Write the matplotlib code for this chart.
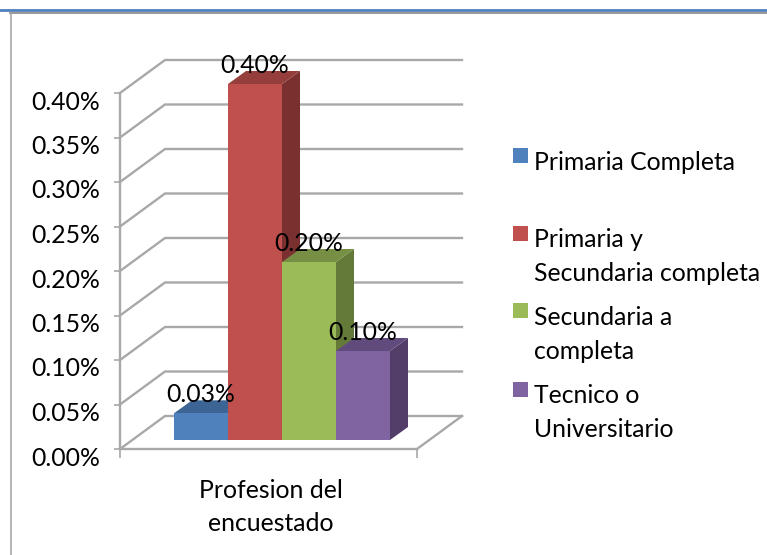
import matplotlib
matplotlib.use('Agg')
import matplotlib.pyplot as plt
import matplotlib.transforms as mtrans
from matplotlib.patches import Polygon, Rectangle
from matplotlib.lines import Line2D

categories = ['Primaria Completa', 'Primaria y\nSecundaria completa',
              'Secundaria a\ncompleta', 'Tecnico o\nUniversitario']
values = [0.03, 0.40, 0.20, 0.10]
value_labels = ['0.03%', '0.40%', '0.20%', '0.10%']
yticks = [0.00, 0.05, 0.10, 0.15, 0.20, 0.25, 0.30, 0.35, 0.40]
ytick_labels = ['0.00%', '0.05%', '0.10%', '0.15%', '0.20%', '0.25%', '0.30%', '0.35%', '0.40%']
axis_title = 'Profesion del\nencuestado'

front_colors = ['#4f81bd', '#c0504d', '#9bbb59', '#8064a2']
top_colors = ['#3c6494', '#953e3b', '#778f44', '#614b7c']
side_colors = ['#325279', '#7a302e', '#637a38', '#523e69']
grid_color = '#a8a8a8'

W, H = 767, 555
plt.rcParams['font.family'] = ['Lato', 'DejaVu Sans']
fs = 17.8
fig = plt.figure(figsize=(W / 100, H / 100), dpi=100, facecolor='white')


def px_box(x0, y0, x1, y1):
    """pixel box (y from the top) to figure fractions"""
    return [x0 / W, 1 - y1 / H, (x1 - x0) / W, (y1 - y0) / H]


# page rules and the chart frame
fig.add_artist(Line2D([0, 1], [1 - 10 / H] * 2, color='#4f81bd', lw=2.0))
fig.add_artist(Line2D([10 / W, 1], [1 - 13 / H] * 2, color='#909090', lw=1.3))
fig.add_artist(Line2D([10.5 / W] * 2, [0, 1 - 13 / H], color='#a0a0a0', lw=1.1))

ax = fig.add_axes(px_box(120, 93, 417, 449))
ax.patch.set_alpha(0)
xmax = 5.5
ax.set_xlim(0, xmax)
ax.set_ylim(0, 0.40)

# depth of the box in data units
depth_x = 45 / 54
depth_y = 33 / 890

for t in yticks:
    ax.plot([0, depth_x, xmax + depth_x], [t, t + depth_y, t + depth_y],
            color=grid_color, lw=1.7, clip_on=False, zorder=1)
ax.plot([xmax, xmax + depth_x], [0, depth_y], color=grid_color, lw=1.7, clip_on=False, zorder=1)

# bars: front, top and side faces, left to right so that each covers the one before
bar_depth_x = 18 / 54
bar_depth_y = 13 / 890
base = 9 / 890
for i, v in enumerate(values):
    x0 = 1 + i
    x1 = x0 + 1
    top = base + v
    ax.add_patch(Polygon([(x1, base), (x1 + bar_depth_x, base + bar_depth_y),
                          (x1 + bar_depth_x, top + bar_depth_y), (x1, top)],
                         fc=side_colors[i], ec='none', clip_on=False, zorder=3))
    ax.add_patch(Polygon([(x0, top), (x1, top), (x1 + bar_depth_x, top + bar_depth_y),
                          (x0 + bar_depth_x, top + bar_depth_y)],
                         fc=top_colors[i], ec='none', clip_on=False, zorder=3))
    ax.add_patch(Rectangle((x0, base), 1, v, fc=front_colors[i], ec='none', clip_on=False, zorder=3))
    ax.annotate(value_labels[i], (x0 + 0.5, top), xytext=(0, 13.5), textcoords='offset points',
                ha='center', va='center', fontsize=fs, color='black', zorder=5, annotation_clip=False)

for s in ['top', 'right']:
    ax.spines[s].set_visible(False)
for s in ['left', 'bottom']:
    ax.spines[s].set_color(grid_color)
    ax.spines[s].set_linewidth(1.7)
    ax.spines[s].set_zorder(2)

ax.set_xticks([0, xmax])
ax.set_xticklabels([])
ax.tick_params(axis='x', length=6.5, width=1.2, color=grid_color)
ax.set_yticks(yticks)
ax.set_yticklabels(ytick_labels, fontsize=fs)
ax.tick_params(axis='y', length=4.5, width=1.2, color=grid_color, pad=10)
shift = mtrans.ScaledTranslation(0, -7 / 100, fig.dpi_scale_trans)
for lab in ax.get_yticklabels():
    lab.set_transform(lab.get_transform() + shift)

fig.text(271 / W, 1 - 507 / H, axis_title, ha='center', va='center', fontsize=fs, linespacing=1.55)

# legend, placed by hand because the entries are not evenly spaced
box_tops = [148, 226, 303, 382]
text_mids = [163, 256.5, 334.5, 412.5]
for i, name in enumerate(categories):
    fig.add_artist(Rectangle((513 / W, 1 - (box_tops[i] + 15) / H), 15 / W, 15 / H,
                             transform=fig.transFigure, fc=front_colors[i], ec='none'))
    fig.text(534 / W, 1 - text_mids[i] / H, name, ha='left', va='center', fontsize=fs, linespacing=1.55)

fig.savefig('out.png', dpi=100)
